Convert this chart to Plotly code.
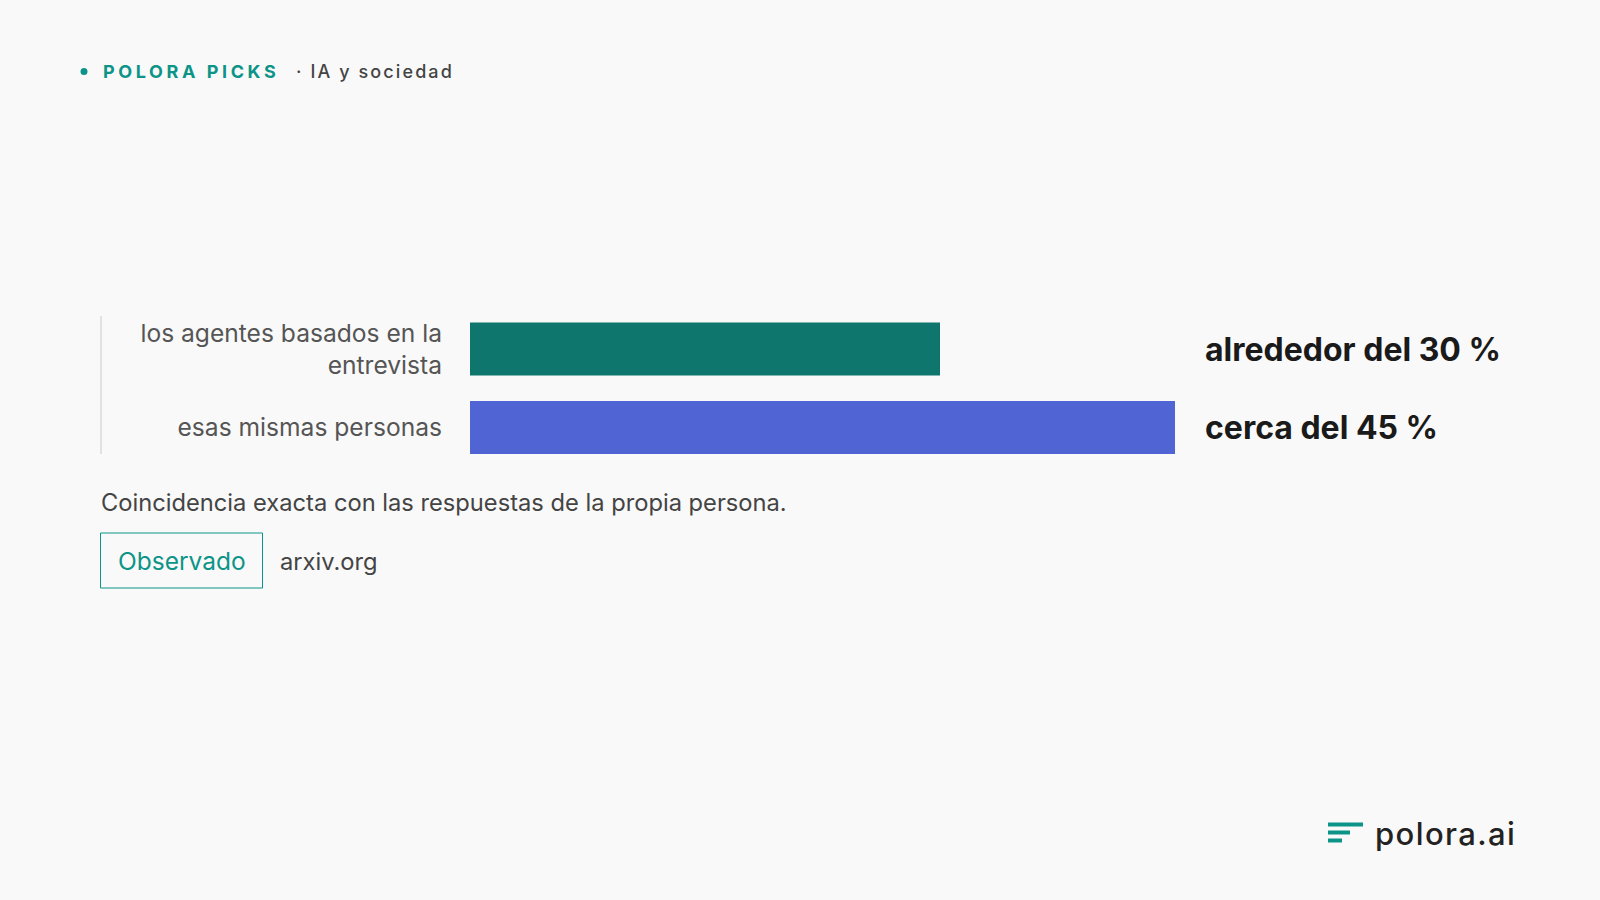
import plotly.graph_objects as go

# ---- data ----
categories = ["los agentes basados en la entrevista", "esas mismas personas"]
tick_labels = ["los agentes basados en la<br>entrevista", "esas mismas personas"]
values = [30, 45]
value_labels = ["alrededor del 30 %", "cerca del 45 %"]
bar_colors = ["#0f766e", "#5064d3"]
header_brand = "POLORA PICKS"
header_topic = "· IA y sociedad"
caption = "Coincidencia exacta con las respuestas de la propia persona."
badge = "Observado"
source = "arxiv.org"
logo_text = "polora.ai"

W, H = 1600, 900
TEAL = "#0d9488"
BG = "#f9f9f9"
FONT = "Inter, Roboto, sans-serif"


def px(x):
    return x / W


def py(y):
    return 1 - y / H


fig = go.Figure()
fig.add_trace(go.Bar(
    y=categories, x=values, orientation="h",
    marker=dict(color=bar_colors, line=dict(width=0)),
    hoverinfo="skip", showlegend=False,
))

annotations = []
shapes = []

# value labels
for cat, lab in zip(categories, value_labels):
    annotations.append(dict(
        x=px(1203), xref="paper", y=cat, yref="y", text=lab, showarrow=False,
        xanchor="left", yanchor="middle",
        font=dict(family=FONT, size=32, color="#1a1a1a", weight=700),
    ))

# header
shapes.append(dict(type="circle", xref="paper", yref="paper",
                   x0=px(80.5), x1=px(87.5), y0=py(68), y1=py(75),
                   fillcolor=TEAL, line=dict(width=0)))
annotations.append(dict(
    x=px(101), y=py(72), xref="paper", yref="paper", xanchor="left", yanchor="middle",
    showarrow=False,
    text=f'<span style="letter-spacing:3.6px">{header_brand}</span>',
    font=dict(family=FONT, size=18, color=TEAL, weight=700),
))
annotations.append(dict(
    x=px(294), y=py(72), xref="paper", yref="paper", xanchor="left", yanchor="middle",
    showarrow=False,
    text=f'<span style="letter-spacing:2.1px">{header_topic}</span>',
    font=dict(family=FONT, size=18, color="#444444", weight=500),
))

# left vertical rule
shapes.append(dict(type="line", xref="paper", yref="paper",
                   x0=px(101), x1=px(101), y0=py(316), y1=py(454),
                   line=dict(color="#e2e2e2", width=2)))

# caption
annotations.append(dict(
    x=px(99), y=py(502), xref="paper", yref="paper", xanchor="left", yanchor="middle",
    showarrow=False, text=caption,
    font=dict(family=FONT, size=23.7, color="#444444"),
))

# badge
shapes.append(dict(type="rect", xref="paper", yref="paper",
                   x0=px(100.5), x1=px(262.5), y0=py(533), y1=py(588),
                   line=dict(color=TEAL, width=1), fillcolor="rgba(0,0,0,0)"))
annotations.append(dict(
    x=px(181.5), y=py(561), xref="paper", yref="paper", xanchor="center", yanchor="middle",
    showarrow=False, text=badge,
    font=dict(family=FONT, size=24.5, color=TEAL),
))
annotations.append(dict(
    x=px(278), y=py(561), xref="paper", yref="paper", xanchor="left", yanchor="middle",
    showarrow=False, text=source,
    font=dict(family=FONT, size=23.7, color="#444444"),
))

# logo
for x1, y0 in [(1363, 822.5), (1350, 830.5), (1342, 838.5)]:
    shapes.append(dict(type="rect", xref="paper", yref="paper",
                       x0=px(1328), x1=px(x1), y0=py(y0), y1=py(y0 + 4),
                       fillcolor=TEAL, line=dict(width=0)))
annotations.append(dict(
    x=px(1373), y=py(833), xref="paper", yref="paper", xanchor="left", yanchor="middle",
    showarrow=False,
    text=f'<span style="letter-spacing:1.4px">{logo_text}</span>',
    font=dict(family=FONT, size=31, color="#222222", weight=500),
))

fig.update_layout(
    width=W, height=H,
    margin=dict(l=0, r=0, t=0, b=0),
    paper_bgcolor=BG, plot_bgcolor=BG,
    bargap=0.325,
    xaxis=dict(domain=[px(470), px(1175)], range=[0, 45], visible=False,
               fixedrange=True),
    yaxis=dict(domain=[py(466.75), py(309.75)], autorange="reversed",
               tickvals=categories, ticktext=tick_labels, ticks="",
               showline=False, showgrid=False, zeroline=False,
               ticklabelstandoff=27,
               tickfont=dict(family=FONT, size=24.6, color="#555555"),
               fixedrange=True),
    annotations=annotations,
    shapes=shapes,
    font=dict(family=FONT),
)

fig.write_html("out.html", config={"displayModeBar": False},
               post_script="document.body.style.margin='0';document.body.style.background='#f9f9f9';")
